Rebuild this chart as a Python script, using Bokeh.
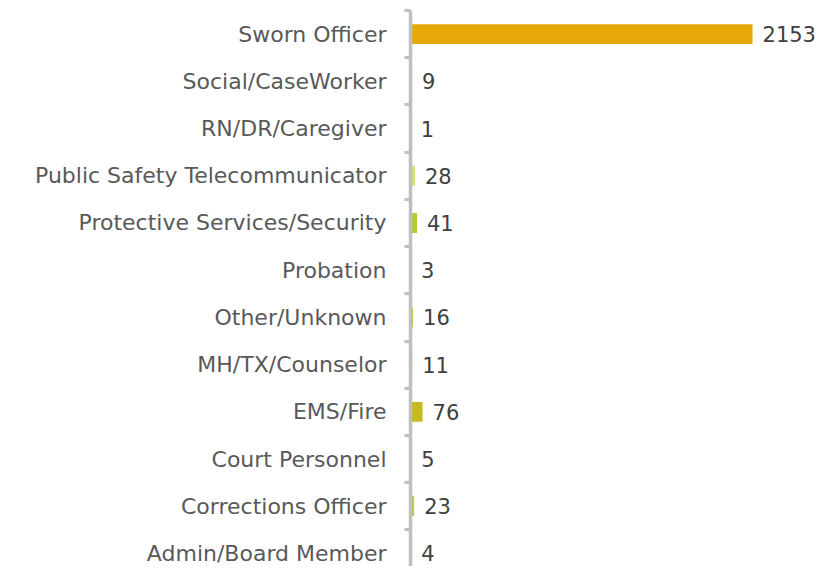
from bokeh.plotting import figure
from bokeh.models import ColumnDataSource, Range1d, FixedTicker, LinearAxis
from bokeh.core.properties import value
from bokeh.embed import file_html
from bokeh.resources import INLINE

# Data (bottom to top)
categories = ["Admin/Board Member", "Corrections Officer", "Court Personnel", "EMS/Fire",
              "MH/TX/Counselor", "Other/Unknown", "Probation", "Protective Services/Security",
              "Public Safety Telecommunicator", "RN/DR/Caregiver", "Social/CaseWorker", "Sworn Officer"]
counts = [4, 23, 5, 76, 11, 16, 3, 41, 28, 1, 9, 2153]
colors = ["#C7CF4A", "#BFCB3E", "#CCD455", "#C6BA1E", "#C2CE45", "#BCC93C", "#D0D862",
          "#B8CA3A", "#D8E272", "#C9D35A", "#C4CF4C", "#E8A80B"]

pos = list(range(len(categories)))
src = ColumnDataSource(dict(y=pos, v=counts, c=colors, lab=[str(n) for n in counts]))

FONT = "DejaVu Sans"

p = figure(width=817, height=566, output_backend="svg", toolbar_location=None,
           x_range=Range1d(0, 2562), y_range=Range1d(-0.2755, 11.5),
           x_axis_location=None, y_axis_location=None,
           min_border_left=410, min_border_right=0, min_border_top=10, min_border_bottom=0)
p.outline_line_color = None
p.xgrid.grid_line_color = None
p.ygrid.grid_line_color = None
p.background_fill_color = "white"
p.border_fill_color = "white"

p.hbar(y="y", left=0, right="v", height=0.42, fill_color="c", line_color=None, source=src)

p.text(x="v", y="y", text="lab", source=src, x_offset=10, text_align="left",
       text_baseline="middle", text_font=value(FONT), text_font_size="21px",
       text_color="#404040")

yaxis = LinearAxis(ticker=FixedTicker(ticks=pos, minor_ticks=[i - 0.5 for i in pos] + [len(pos) - 0.5]),
                   major_label_overrides={i: c for i, c in enumerate(categories)})
yaxis.axis_line_color = "#BFBFBF"
yaxis.axis_line_width = 3.5
yaxis.major_tick_line_color = None
yaxis.major_tick_out = 0
yaxis.major_tick_in = 0
yaxis.minor_tick_line_color = "#BFBFBF"
yaxis.minor_tick_line_width = 3
yaxis.minor_tick_out = 6
yaxis.minor_tick_in = 0
yaxis.major_label_text_font = FONT
yaxis.major_label_text_font_size = "22px"
yaxis.major_label_text_color = "#595959"
yaxis.major_label_standoff = 18
p.add_layout(yaxis, "left")

open("out.html", "w").write(file_html(p, INLINE))
